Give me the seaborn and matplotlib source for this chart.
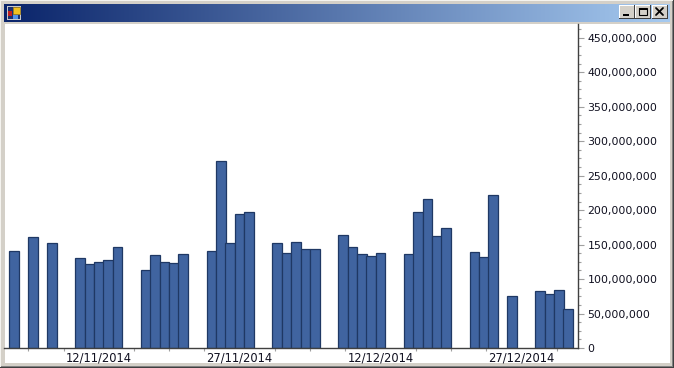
import numpy as np
import pandas as pd
import seaborn as sns
import matplotlib.pyplot as plt
from matplotlib.patches import Rectangle
from matplotlib.ticker import FixedLocator, FuncFormatter, MultipleLocator

# trading days and values
dates = ['2014-11-03', '2014-11-05', '2014-11-07',
         '2014-11-10', '2014-11-11', '2014-11-12', '2014-11-13', '2014-11-14',
         '2014-11-17', '2014-11-18', '2014-11-19', '2014-11-20', '2014-11-21',
         '2014-11-24', '2014-11-25', '2014-11-26', '2014-11-27', '2014-11-28',
         '2014-12-01', '2014-12-02', '2014-12-03', '2014-12-04', '2014-12-05',
         '2014-12-08', '2014-12-09', '2014-12-10', '2014-12-11', '2014-12-12',
         '2014-12-15', '2014-12-16', '2014-12-17', '2014-12-18', '2014-12-19',
         '2014-12-22', '2014-12-23', '2014-12-24', '2014-12-26',
         '2014-12-29', '2014-12-30', '2014-12-31', '2015-01-01']
volumes = [141, 161, 153,
           130, 121.5, 124.4, 127.3, 146,
           112.8, 134.5, 124.4, 123, 136,
           141, 271, 152, 194, 197,
           152, 137.5, 153.4, 143, 143,
           163.6, 146, 136, 133, 137.5,
           136, 197, 216, 162, 174,
           139, 131.6, 221.6, 75,
           82.3, 78, 84, 56]
label_dates = ['2014-11-12', '2014-11-27', '2014-12-12', '2014-12-27']

W, H = 674, 368
BAR_FILL = '#4064a0'
BAR_EDGE = '#1f3864'
FACE = '#d4d0c8'

df = pd.DataFrame({'date': pd.to_datetime(dates), 'volume': np.array(volumes) * 1e6})
start = df['date'].min()
df['day'] = (df['date'] - start).dt.days
label_days = [(pd.Timestamp(d) - start).days for d in label_dates]

sns.set_style('white')
plt.rcParams['font.family'] = ['DejaVu Sans']
fig = plt.figure(figsize=(W / 100, H / 100), dpi=100, facecolor=FACE)

# window frame, drawn in pixel coordinates
win = fig.add_axes([0, 0, 1, 1], zorder=0)
win.set_xlim(0, W)
win.set_ylim(H, 0)
win.axis('off')
win.add_patch(Rectangle((0, 0), W, H, fc=FACE, ec='none'))
win.add_patch(Rectangle((0, 0), W, 1, fc='#f4f3ef', ec='none'))
win.add_patch(Rectangle((0, 0), 1, H, fc='#f4f3ef', ec='none'))
win.add_patch(Rectangle((W - 1, 0), 1, H, fc='#404040', ec='none'))
win.add_patch(Rectangle((0, H - 1), W, 1, fc='#404040', ec='none'))
win.add_patch(Rectangle((W - 2, 1), 1, H - 2, fc='#808080', ec='none'))
win.add_patch(Rectangle((1, H - 2), W - 2, 1, fc='#808080', ec='none'))
win.add_patch(Rectangle((5, 24), W - 9, H - 29, fc='white', ec='none'))

# title bar gradient
grad = np.linspace(0, 1, 256).reshape(1, -1, 1)
c0 = np.array([10, 36, 106]).reshape(1, 1, 3) / 255
c1 = np.array([166, 202, 240]).reshape(1, 1, 3) / 255
win.imshow(c0 + (c1 - c0) * grad, extent=(4, W - 4, 22, 4), aspect='auto', zorder=1)
win.set_xlim(0, W)
win.set_ylim(H, 0)

# icon
win.add_patch(Rectangle((7, 6), 14, 14, fc='#c8c8c8', ec='none', zorder=2))
win.add_patch(Rectangle((8, 7), 12, 12, fc='#1c2f70', ec='none', zorder=2))
win.add_patch(Rectangle((13, 7), 7, 7, fc='#f0c020', ec='#a08020', lw=0.6, zorder=3))
win.add_patch(Rectangle((8, 11), 4, 5, fc='#c02020', ec='none', zorder=3))
win.add_patch(Rectangle((13, 15), 5, 4, fc='#5090e8', ec='none', zorder=3))

# caption buttons
for bx in [619, 635, 652]:
    win.add_patch(Rectangle((bx, 5), 16, 14, fc=FACE, ec='none', zorder=2))
    win.add_patch(Rectangle((bx, 5), 16, 1, fc='white', ec='none', zorder=3))
    win.add_patch(Rectangle((bx, 5), 1, 14, fc='white', ec='none', zorder=3))
    win.add_patch(Rectangle((bx, 18), 16, 1, fc='#404040', ec='none', zorder=3))
    win.add_patch(Rectangle((bx + 15, 5), 1, 14, fc='#404040', ec='none', zorder=3))
win.add_patch(Rectangle((623, 14), 6, 2, fc='black', ec='none', zorder=4))
win.add_patch(Rectangle((639, 8), 8, 7, fc='none', ec='black', lw=0.8, zorder=4))
win.add_patch(Rectangle((639, 8), 8, 2, fc='black', ec='none', zorder=4))
win.plot([656, 663], [8, 15], color='black', lw=1.3, zorder=4)
win.plot([656, 663], [15, 8], color='black', lw=1.3, zorder=4)

# chart area
left, right, top, base = 4, 578, 24, 348
ax = fig.add_axes([left / W, 1 - base / H, (right - left) / W, (base - top) / H], zorder=1)
ax.patch.set_alpha(0)
sns.barplot(data=df, x='day', y='volume', native_scale=True, width=1.03,
            color=BAR_FILL, saturation=1, edgecolor=BAR_EDGE, linewidth=0.9, ax=ax)

px_per_day = 9.39
ax.set_xlim((left - 14.3) / px_per_day, (right - 14.3) / px_per_day)
ax.set_ylim(0, 470e6)
ax.set_xlabel('')
ax.set_ylabel('')

ax.spines['left'].set_visible(False)
ax.spines['top'].set_visible(False)
ax.spines['right'].set_color('#404040')
ax.spines['bottom'].set_color('#404040')
ax.spines['right'].set_linewidth(1.0)
ax.spines['bottom'].set_linewidth(1.0)

# y axis on the right with a minor tick every 12.5 million
ax.yaxis.tick_right()
ax.yaxis.set_major_locator(MultipleLocator(50e6))
ax.yaxis.set_minor_locator(MultipleLocator(12.5e6))
ax.yaxis.set_major_formatter(FuncFormatter(lambda v, p: f'{int(v):,}'))
ax.tick_params(axis='y', which='major', right=True, length=4.3, width=0.8,
               color='#a0a0a0', labelsize=7.95, pad=2.5, labelcolor='#101020')
ax.tick_params(axis='y', which='minor', right=True, length=2.2, width=0.8, color='#a0a0a0')

# x axis: labelled dates carry no tick, the rest have small ones
minor_days = [d for d in np.arange(1.5, 60, 3.75) if min(abs(d - l) for l in label_days) > 1]
ax.xaxis.set_major_locator(FixedLocator(label_days))
ax.xaxis.set_major_formatter(FuncFormatter(lambda v, p: (start + pd.Timedelta(days=int(v))).strftime('%d/%m/%Y')))
ax.xaxis.set_minor_locator(FixedLocator(minor_days))
ax.tick_params(axis='x', which='major', bottom=False, length=0, labelsize=8.3, pad=2.5, labelcolor='#101020')
ax.tick_params(axis='x', which='minor', bottom=True, length=2.2, width=0.8, color='#a0a0a0')

fig.savefig('out.png', dpi=100, facecolor=FACE)
